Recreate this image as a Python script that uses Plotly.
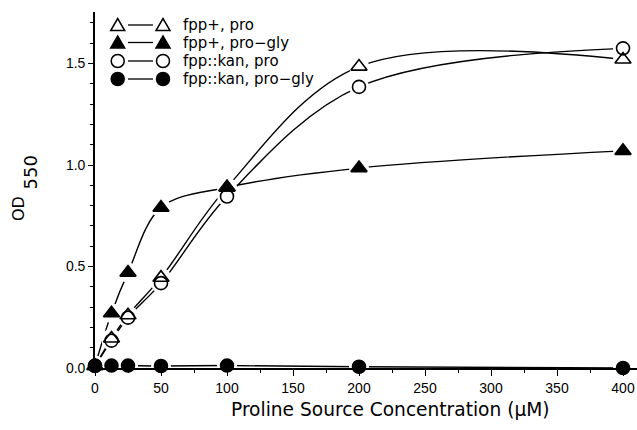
import plotly.graph_objects as go

conc = [0, 12.5, 25, 50, 100, 200, 400]
fpp_pro = [0.01, 0.145, 0.26, 0.445, 0.89, 1.485, 1.52]
fpp_progly = [0.01, 0.27, 0.47, 0.79, 0.89, 0.985, 1.07]
kan_pro = [0.01, 0.135, 0.248, 0.418, 0.845, 1.385, 1.575]
kan_progly = [0.012, 0.012, 0.012, 0.01, 0.012, 0.006, 0.0]

names = ["fpp+, pro", "fpp+, pro\u2212gly", "fpp::kan, pro", "fpp::kan, pro\u2212gly"]
series = [fpp_pro, fpp_progly, kan_pro, kan_progly]
symbols = ["triangle-up-open", "triangle-up", "circle-open", "circle"]
msizes = [14, 14, 13, 13]

fig = go.Figure()
# lines
for ys in series:
    fig.add_trace(go.Scatter(x=conc, y=ys, mode="lines",
                             line=dict(color="black", width=1.4, shape="spline", smoothing=1.0),
                             showlegend=False, hoverinfo="skip", cliponaxis=False))
# white masks giving gaps around markers
for ys in series:
    fig.add_trace(go.Scatter(x=conc, y=ys, mode="markers",
                             marker=dict(symbol="circle", size=20, color="white", line=dict(width=0)),
                             showlegend=False, hoverinfo="skip", cliponaxis=False))
# markers
for ys, sym, ms, nm in zip(series, symbols, msizes, names):
    fig.add_trace(go.Scatter(x=conc, y=ys, mode="markers", name=nm,
                             marker=dict(symbol=sym, size=ms, color="black",
                                         line=dict(color="black", width=1.6)),
                             showlegend=False, cliponaxis=False))

W, H = 637, 430
ml, mr, mt, mb = 95, 0, 12, 62
pw, ph = W - ml - mr, H - mt - mb

def px(x):
    return (x - ml) / pw

def py(y):
    return (H - mb - y) / ph

shapes = []
annotations = []
row_y = [25, 42.5, 61, 79]
tri = "M -7,-5.5 L 7,-5.5 L 0,6.5 Z"
for i, (nm, sym) in enumerate(zip(names, symbols)):
    yy = py(row_y[i])
    filled = not sym.endswith("open")
    fill = "black" if filled else "rgba(0,0,0,0)"
    for cx in (117.7, 163):
        if sym.startswith("triangle"):
            shapes.append(dict(type="path", xref="paper", yref="paper", xsizemode="pixel", ysizemode="pixel",
                               xanchor=px(cx), yanchor=yy, path=tri, fillcolor=fill,
                               line=dict(color="black", width=1.5)))
        else:
            shapes.append(dict(type="circle", xref="paper", yref="paper", xsizemode="pixel", ysizemode="pixel",
                               xanchor=px(cx), yanchor=yy, x0=-6.5, x1=6.5, y0=-6.5, y1=6.5,
                               fillcolor=fill, line=dict(color="black", width=1.5)))
    shapes.append(dict(type="line", xref="paper", yref="paper", x0=px(128), x1=px(153), y0=yy, y1=yy,
                       line=dict(color="black", width=1.3)))
    annotations.append(dict(text=nm, xref="paper", yref="paper", x=px(181), y=yy, xanchor="left",
                            yanchor="middle", showarrow=False,
                            font=dict(family="DejaVu Sans", size=15, color="black")))

annotations.append(dict(text="Proline Source Concentration (\u03bcM)", xref="paper", yref="paper",
                        x=px(390), y=py(409), xanchor="center", yanchor="middle", showarrow=False,
                        font=dict(family="DejaVu Sans", size=18.6, color="black")))
annotations.append(dict(text="OD", xref="paper", yref="paper", x=px(18), y=py(209),
                        xanchor="center", yanchor="middle", textangle=-90, showarrow=False,
                        font=dict(family="DejaVu Sans", size=16, color="black")))
annotations.append(dict(text="550", xref="paper", yref="paper", x=px(29.5), y=py(173),
                        xanchor="center", yanchor="middle", textangle=-90, showarrow=False,
                        font=dict(family="DejaVu Sans", size=18, color="black")))

fig.update_layout(
    width=W, height=H,
    margin=dict(l=ml, r=mr, t=mt, b=mb),
    paper_bgcolor="white", plot_bgcolor="white",
    font=dict(family="Liberation Sans, Arial, sans-serif", color="black", size=14),
    showlegend=False,
    shapes=shapes, annotations=annotations,
    xaxis=dict(range=[0, 410.6], tickvals=[0, 50, 100, 150, 200, 250, 300, 350, 400],
               showgrid=False, zeroline=False, showline=True, linecolor="black", linewidth=1.6,
               ticks="outside", ticklen=6, tickwidth=1.3, tickcolor="black",
               minor=dict(dtick=25, tick0=0, ticks="outside", ticklen=3, tickwidth=1, tickcolor="black"),
               tickfont=dict(size=14), layer="above traces"),
    yaxis=dict(range=[0, 1.754], tickvals=[0, 0.5, 1.0, 1.5], tickformat=".1f",
               showgrid=False, zeroline=False, showline=True, linecolor="black", linewidth=1.6,
               ticks="outside", ticklen=5, tickwidth=1.3, tickcolor="black",
               minor=dict(dtick=0.1, tick0=0, ticks="outside", ticklen=3, tickwidth=1, tickcolor="black"),
               tickfont=dict(size=14), layer="above traces"),
)

fig.write_html("out.html", config={"displayModeBar": False},
               post_script="document.body.style.margin='0';document.body.style.padding='0';")
